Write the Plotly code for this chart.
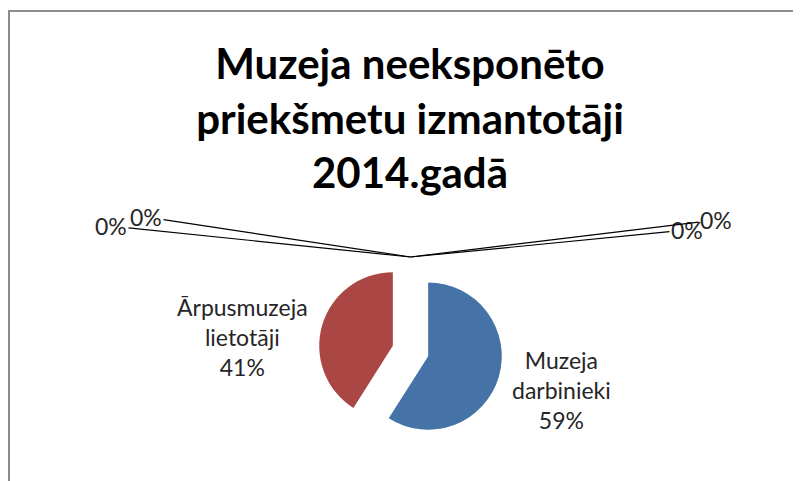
import plotly.graph_objects as go

# ---- data ----
labels = ["Muzeja darbinieki", "Ārpusmuzeja lietotāji"]
label_lines = ["Muzeja<br>darbinieki", "Ārpusmuzeja<br>lietotāji"]
values = [59, 41]
zero_labels = ["0%", "0%", "0%", "0%"]
colors = ["#4572A7", "#AA4643"]
title_lines = ["Muzeja neeksponēto", "priekšmetu izmantotāji", "2014.gadā"]

# page has an 8px body margin; work in page pixels and convert
OFF = 8
W, H = 793, 473
FONT = "Lato"
TXT = "#262626"


def px(x):
    return (x - OFF) / W


def py(y):
    return 1 - (y - OFF) / H


dom_x = [px(318.5), px(502.5)]
dom_y = [py(443), py(259)]

fig = go.Figure()
fig.add_trace(go.Pie(
    labels=labels,
    values=values,
    sort=False,
    direction="clockwise",
    rotation=0,
    pull=[0.25, 0.25],
    marker=dict(colors=colors, line=dict(width=0)),
    textinfo="none",
    hoverinfo="label+percent",
    showlegend=False,
    domain=dict(x=dom_x, y=dom_y),
))

total = sum(values)
pcts = [round(v / total * 100) for v in values]

annotations = []
# main data labels
main_pos = [(561, 390), (242, 337)]
for (lx, ly), txt, p in zip(main_pos, label_lines, pcts):
    annotations.append(dict(
        x=px(lx), y=py(ly), xref="paper", yref="paper", showarrow=False,
        xanchor="center", yanchor="middle",
        text=f"{txt}<br>{p}%", align="center",
        font=dict(family=FONT, size=23, color=TXT),
    ))

# zero-value labels with leader lines to the top of the pie
head_x = (dom_x[0] + dom_x[1]) / 2
head_y = dom_y[1] + 2 / H
head_px = head_x * W + OFF
head_py = (1 - head_y) * H + OFF
zero_pos = [(111, 226), (146, 217), (687, 230), (716, 220)]
for (tx, ty), txt in zip(zero_pos, zero_labels):
    annotations.append(dict(
        x=head_x, y=head_y, xref="paper", yref="paper",
        ax=tx - head_px, ay=ty - head_py,
        showarrow=True, arrowhead=0, arrowwidth=1.2, arrowcolor="#000000",
        standoff=0, startstandoff=0,
        text=txt, font=dict(family=FONT, size=23, color=TXT),
    ))

fig.update_layout(
    width=W, height=H,
    margin=dict(l=0, r=0, t=0, b=0),
    paper_bgcolor="white",
    plot_bgcolor="white",
    title=dict(
        text="<br>".join(title_lines),
        x=px(410), xanchor="center",
        y=py(79), yanchor="top",
        font=dict(family=FONT, size=42, color="#000000", weight="bold"),
    ),
    annotations=annotations,
    shapes=[dict(type="rect", xref="paper", yref="paper",
                 x0=1 / W, x1=1.2, y0=-0.2, y1=py(11),
                 line=dict(color="#8c8c8c", width=2))],
)

fig.write_html("out.html")
